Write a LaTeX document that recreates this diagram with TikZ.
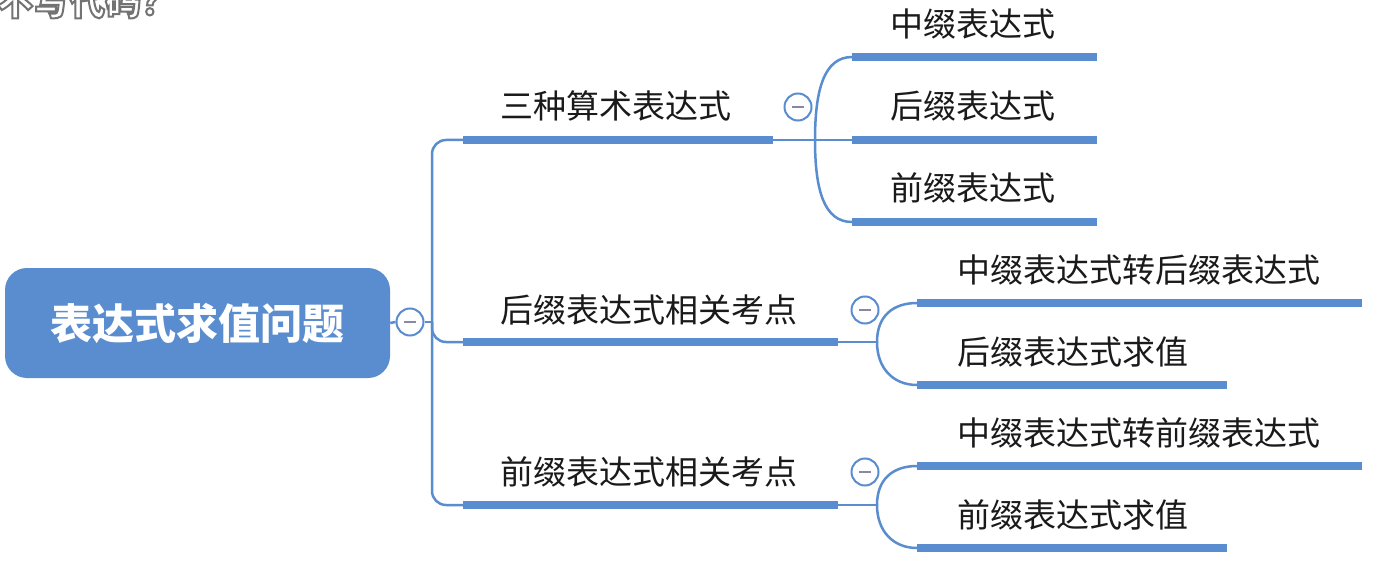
\documentclass[tikz,border=0pt]{standalone}
\usepackage{fontspec}
\newfontfamily\cjk{Noto Sans CJK SC}
\definecolor{mmblue}{HTML}{5A8DCF}
\definecolor{ink}{HTML}{1A1A1A}
\definecolor{minusgray}{HTML}{8A87A6}
\begin{document}
\begin{tikzpicture}[x=1pt,y=-1pt,
  root/.style={rounded corners=22pt, fill=mmblue, text=white, font=\cjk\bfseries\fontsize{42}{50}\selectfont, minimum width=385pt, minimum height=110pt, inner sep=0pt},
  lab/.style={anchor=west, inner sep=0pt, font=\cjk\fontsize{33}{40}\selectfont, text=ink},
  ovl/.style={anchor=base west, inner sep=0pt, font=\cjk\bfseries\fontsize{36}{40}\selectfont},
  conn/.style={draw=mmblue, line width=2.5pt},
  bar/.style={draw=mmblue, line width=8pt, line cap=butt},
  tog/.style={circle, draw=mmblue, line width=2pt, fill=white, minimum size=27pt, inner sep=0pt,
    path picture={\draw[minusgray, line width=2.5pt] ([xshift=-6pt]path picture bounding box.center) -- ([xshift=6pt]path picture bounding box.center);}}
]
\useasboundingbox (0,0) rectangle (1382,567);
\fill[white] (0,0) rectangle (1382,567);

% overlay caption (cut off at top), white letters with a grey outline
\node[ovl, text=white] (ov) at (-3,15) {\special{pdf:code q 2 Tr 2 w 0.45 G}不写代码？\special{pdf:code Q}};

% root
\node[root] (root) at (197.5,323) {表达式求值问题};
\node[tog] (c0) at (410,322) {};
\coordinate (j0) at (432,322);

% level 1 bars
\coordinate (t1L) at (463,140); \coordinate (t1R) at (773,140); \coordinate (f1) at (815,140);
\coordinate (t2L) at (463,342); \coordinate (t2R) at (838,342); \coordinate (f2) at (877,342);
\coordinate (t3L) at (463,505); \coordinate (t3R) at (838,505); \coordinate (f3) at (877,505);

\draw[conn] (root.east) -- (c0.west);
\draw[conn] (c0.east) -- (j0);
\draw[conn, rounded corners=14pt] (j0) |- (t1L);
\draw[conn, rounded corners=14pt] (j0) |- (t2L);
\draw[conn, rounded corners=14pt] (j0) |- (t3L);

\draw[bar] (t1L) -- (t1R);
\draw[bar] (t2L) -- (t2R);
\draw[bar] (t3L) -- (t3R);
\draw[conn] (t1R) -- (f1);
\draw[conn] (t2R) -- (f2);
\draw[conn] (t3R) -- (f3);

\node[lab] (t1) at (500,106) {三种算术表达式};
\node[lab] (t2) at (500,310) {后缀表达式相关考点};
\node[lab] (t3) at (500,472) {前缀表达式相关考点};

\node[tog] (c1) at (798,107) {};
\node[tog] (c2) at (865,310) {};
\node[tog] (c3) at (865,472) {};

% level 2 : three expressions
\coordinate (s11L) at (852,57);  \coordinate (s11R) at (1097,57);
\coordinate (s12L) at (852,140); \coordinate (s12R) at (1097,140);
\coordinate (s13L) at (852,222); \coordinate (s13R) at (1097,222);
\draw[conn] (f1) .. controls +(0,-50) and +(-28,0) .. (s11L);
\draw[conn] (f1) -- (s12L);
\draw[conn] (f1) .. controls +(0,50) and +(-28,0) .. (s13L);
\draw[bar] (s11L) -- (s11R);
\draw[bar] (s12L) -- (s12R);
\draw[bar] (s13L) -- (s13R);
\node[lab] (s11) at (890,24) {中缀表达式};
\node[lab] (s12) at (890,106) {后缀表达式};
\node[lab] (s13) at (890,188) {前缀表达式};

% level 2 : postfix
\coordinate (s21L) at (917,303); \coordinate (s21R) at (1362,303);
\coordinate (s22L) at (917,385); \coordinate (s22R) at (1227,385);
\draw[conn] (f2) .. controls +(0,-26) and +(-24,0) .. (s21L);
\draw[conn] (f2) .. controls +(0,26) and +(-24,0) .. (s22L);
\draw[bar] (s21L) -- (s21R);
\draw[bar] (s22L) -- (s22R);
\node[lab] (s21) at (957,270) {中缀表达式转后缀表达式};
\node[lab] (s22) at (957,352) {后缀表达式求值};

% level 2 : prefix
\coordinate (s31L) at (917,466); \coordinate (s31R) at (1362,466);
\coordinate (s32L) at (917,548); \coordinate (s32R) at (1227,548);
\draw[conn] (f3) .. controls +(0,-26) and +(-24,0) .. (s31L);
\draw[conn] (f3) .. controls +(0,26) and +(-24,0) .. (s32L);
\draw[bar] (s31L) -- (s31R);
\draw[bar] (s32L) -- (s32R);
\node[lab] (s31) at (957,433) {中缀表达式转前缀表达式};
\node[lab] (s32) at (957,515) {前缀表达式求值};
\end{tikzpicture}
\end{document}
